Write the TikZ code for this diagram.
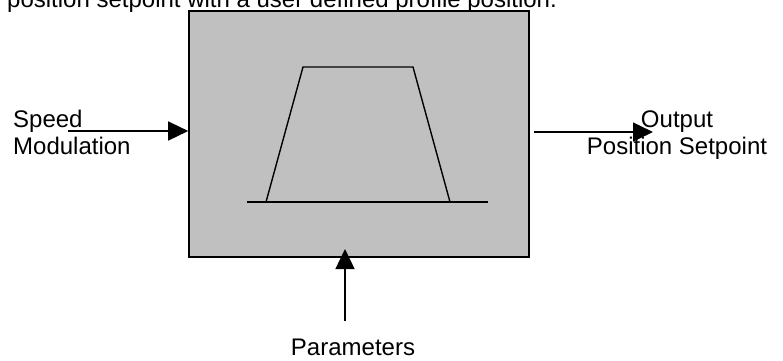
\documentclass[tikz,border=0pt]{standalone}
\usepackage{fontspec}
\setmainfont{Liberation Sans}
\usepackage{tikz}
\usetikzlibrary{arrows.meta,positioning}
\definecolor{boxgray}{RGB}{192,192,192}
\tikzset{
    % Pfeil fuer Ein- und Ausgaenge
    sigarrow/.style={
        line width=1.4pt,
        black,
        -{Triangle[length=20pt, width=19pt]}
    },
    % Textlabel
    lbl/.style={
        inner sep=0pt,
        font=\fontsize{24}{27}\selectfont
    }
}

\begin{document}
\begin{tikzpicture}[x=1pt,y=-1pt]
    \useasboundingbox (0,0) rectangle (783,360);
    \node[lbl, anchor=base west] (cap) at (7,7) {position setpoint with a user defined profile position.};
    \node[draw, fill=boxgray, line width=1.6pt, minimum width=340pt, minimum height=246pt, inner sep=0pt] (blk) at (359,134) {};
    % Rampenprofil
    \draw[line width=1.4pt] (247,202) -- (488,202);
    \draw[line width=1.4pt] (266,202) -- (303,67) -- (413,67) -- (450,202);
    \node[lbl, anchor=base west, align=left] (speed) at (13,154) {Speed\\Modulation};
    \node[lbl, anchor=base, align=center] (out) at (677,154) {Output\\Position Setpoint};
    \node[lbl, anchor=base] (par) at (353,355) {Parameters};
    \coordinate (inL) at (68,131);
    \coordinate (outR) at (653,132);
    \coordinate (inB) at (345,321);
    \draw[sigarrow] (inL) -- (inL -| blk.west);
    \draw[sigarrow] (blk.east |- outR) ++(4,0) -- (outR);
    \draw[sigarrow] (inB) -- ++(0,-72);
\end{tikzpicture}
\end{document}
